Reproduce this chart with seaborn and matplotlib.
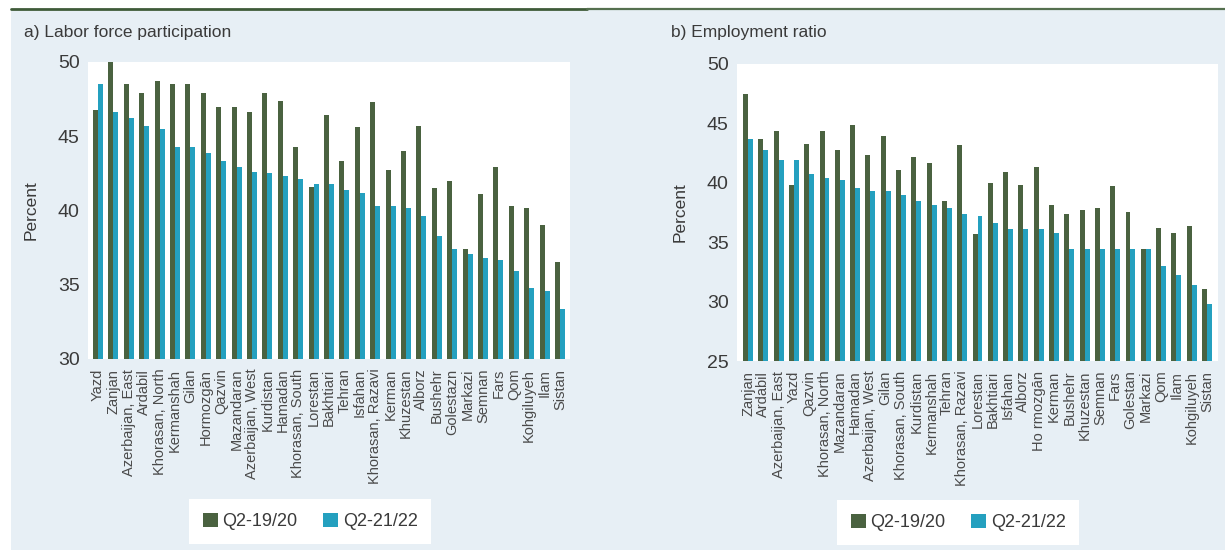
import matplotlib
matplotlib.use("Agg")
import matplotlib.pyplot as plt
from matplotlib.lines import Line2D
from matplotlib.patches import Rectangle
import pandas as pd
import seaborn as sns

# ---- data -------------------------------------------------------------
periods = ["Q2-19/20", "Q2-21/22"]

lfp_provinces = [
    "Yazd", "Zanjan", "Azerbaijan, East", "Ardabil", "Khorasan, North",
    "Kermanshah", "Gilan", "Hormozgān", "Qazvin", "Mazandaran",
    "Azerbaijan, West", "Kurdistan", "Hamadan", "Khorasan, South", "Lorestan",
    "Bakhtiari", "Tehran", "Isfahan", "Khorasan, Razavi", "Kerman",
    "Khuzestan", "Alborz", "Bushehr", "Golestazn", "Markazi",
    "Semnan", "Fars", "Qom", "Kohgiluyeh", "Ilam", "Sistan",
]
lfp_q2_1920 = [46.8, 50.0, 48.5, 47.9, 48.7, 48.5, 48.5, 47.9, 47.0, 47.0,
               46.6, 47.9, 47.4, 44.3, 41.6, 46.4, 43.3, 45.6, 47.3, 42.7,
               44.0, 45.7, 41.5, 42.0, 37.4, 41.1, 42.9, 40.3, 40.2, 39.0, 36.5]
lfp_q2_2122 = [48.5, 46.6, 46.2, 45.7, 45.5, 44.3, 44.3, 43.9, 43.3, 42.9,
               42.6, 42.5, 42.3, 42.1, 41.8, 41.8, 41.4, 41.2, 40.3, 40.3,
               40.2, 39.6, 38.3, 37.4, 37.1, 36.8, 36.7, 35.9, 34.8, 34.6, 33.4]

emp_provinces = [
    "Zanjan", "Ardabil", "Azerbaijan, East", "Yazd", "Qazvin",
    "Khorasan, North", "Mazandaran", "Hamadan", "Azerbaijan, West", "Gilan",
    "Khorasan, South", "Kurdistan", "Kermanshah", "Tehran", "Khorasan, Razavi",
    "Lorestan", "Bakhtiari", "Isfahan", "Alborz", "Ho rmozgān",
    "Kerman", "Bushehr", "Khuzestan", "Semnan", "Fars",
    "Golestan", "Markazi", "Qom", "Ilam", "Kohgiluyeh", "Sistan",
]
emp_q2_1920 = [47.5, 43.7, 44.4, 39.8, 43.3, 44.4, 42.8, 44.9, 42.3, 43.9,
               41.1, 42.2, 41.7, 38.5, 43.2, 35.7, 40.0, 40.9, 39.8, 41.3,
               38.1, 37.4, 37.7, 37.9, 39.7, 37.5, 34.4, 36.2, 35.8, 36.4, 31.1]
emp_q2_2122 = [43.7, 42.8, 41.9, 41.9, 40.7, 40.4, 40.2, 39.6, 39.3, 39.3,
               39.0, 38.5, 38.1, 37.9, 37.4, 37.2, 36.6, 36.1, 36.1, 36.1,
               35.8, 34.4, 34.4, 34.4, 34.4, 34.4, 34.4, 33.0, 32.2, 31.4, 29.8]

# ---- style ------------------------------------------------------------
GREEN = "#4A6240"
BLUE = "#24A0BF"
PANEL_BG = "#E7EFF5"
TEXT = "#3A3A3A"

sns.set_theme(style="white")
plt.rcParams["font.family"] = ["Liberation Sans", "DejaVu Sans"]
plt.rcParams["text.color"] = TEXT
plt.rcParams["axes.labelcolor"] = TEXT
plt.rcParams["xtick.color"] = "#4A4A4A"
plt.rcParams["ytick.color"] = TEXT

W, H = 1225, 550
fig = plt.figure(figsize=(W / 100, H / 100), dpi=100, facecolor="white")

# light panel background and the rule along the top
fig.patches.append(Rectangle((11 / W, 0), 1 - 11 / W, 1 - 9 / H,
                             transform=fig.transFigure, facecolor=PANEL_BG,
                             edgecolor="none", zorder=-5))
fig.add_artist(Line2D([11 / W, 587 / W], [1 - 8.8 / H] * 2,
                      transform=fig.transFigure, color="#3F5B39", lw=2.0))
fig.add_artist(Line2D([587 / W, 1.0], [1 - 9.4 / H] * 2,
                      transform=fig.transFigure, color="#55704F", lw=1.6))


def to_long(provinces, a, b):
    return pd.DataFrame({
        "province": provinces * 2,
        "value": a + b,
        "period": [periods[0]] * len(a) + [periods[1]] * len(b),
    })


def panel(rect, provinces, a, b, ylim, yticks, xpad, title, title_x, legend_xy):
    ax = fig.add_axes(rect)
    ax.set_facecolor("white")
    df = to_long(provinces, a, b)
    sns.barplot(data=df, x="province", y="value", hue="period",
                order=provinces, hue_order=periods,
                palette=[GREEN, BLUE], width=0.65, gap=0, saturation=1,
                linewidth=0, errorbar=None, legend=True, ax=ax)
    ax.set_ylim(*ylim)
    ax.set_yticks(yticks)
    ax.set_xlim(-xpad, len(provinces) - 1 + xpad)
    for s in ax.spines.values():
        s.set_visible(False)
    ax.tick_params(axis="both", length=0)
    ax.tick_params(axis="y", labelsize=14, pad=6)
    ax.tick_params(axis="x", labelsize=10.5, pad=7)
    ax.set_xticks(range(len(provinces)))
    ax.set_xticklabels(provinces, rotation=90, ha="center", va="top")
    ax.set_xlabel("")
    ax.set_ylabel("Percent", fontsize=12.5, labelpad=14)
    ax.grid(False)

    handles, labels = ax.get_legend_handles_labels()
    ax.legend_.remove()
    fig.legend(handles, labels, loc="upper left",
               bbox_to_anchor=(legend_xy[0] / W, 1 - legend_xy[1] / H),
               bbox_transform=fig.transFigure, ncol=2, frameon=True,
               fancybox=False, framealpha=1, facecolor="white",
               edgecolor="none", fontsize=13, handlelength=0.85,
               handleheight=0.85, handletextpad=0.25, columnspacing=1.4,
               borderpad=0.75, borderaxespad=0)
    fig.text(title_x / W, 1 - 37.5 / H, title, fontsize=12.5,
             ha="left", va="baseline")
    return ax


panel([88 / W, 1 - 359 / H, 482 / W, 297 / H], lfp_provinces,
      lfp_q2_1920, lfp_q2_2122, (30, 50), [30, 35, 40, 45, 50], 0.65,
      "a) Labor force participation", 24, (189, 499))
panel([737 / W, 1 - 361 / H, 481 / W, 297 / H], emp_provinces,
      emp_q2_1920, emp_q2_2122, (25, 50), [25, 30, 35, 40, 45, 50], 0.72,
      "b) Employment ratio", 671, (837, 500))

fig.savefig("out.png", dpi=100, facecolor=fig.get_facecolor())
